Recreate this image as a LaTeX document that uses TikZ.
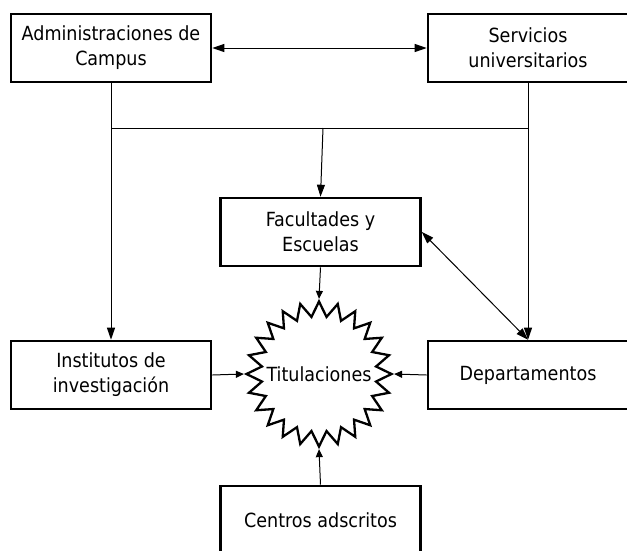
\documentclass[tikz,border=0pt]{standalone}
\usepackage{fontspec}
\setmainfont{DejaVu Sans Condensed}
\usepackage{tikz}
\usetikzlibrary{arrows.meta,shapes.geometric}
\tikzset{>={Triangle[width=8pt,length=12pt]}}
\tikzset{
  unitbox/.style={draw, line width=2.6pt, fill=white, minimum width=200pt, minimum height=68pt, align=center, inner sep=0pt},
  titstar/.style={draw, line width=2.3pt, star, star points=24, star point ratio=1.26, minimum size=145pt, inner sep=0pt},
  small/.style={-{Triangle[width=7pt,length=8pt]}},
}

\begin{document}
\begin{tikzpicture}[x=1pt, y=-1pt, line width=1pt]

  \fontsize{19.5pt}{25pt}\selectfont

  \useasboundingbox (0,0) rectangle (627,550);

  \node[unitbox] (admin) at (111, 48) {Administraciones de\\Campus};
  \node[unitbox] (serv) at (528, 48) {Servicios\\universitarios};
  \node[unitbox] (fac) at (320.5, 232) {Facultades y\\Escuelas};
  \node[unitbox] (inst) at (111, 375) {Institutos de\\investigación};
  \node[unitbox] (dept) at (528, 375) {Departamentos};
  \node[unitbox] (cen) at (320.5, 520) {Centros adscritos};
  \node[titstar] (tit) at (319, 374) {};
  \node at (tit) {Titulaciones};

  \coordinate (busL) at (111, 128);
  \coordinate (busM) at (323, 128);
  \coordinate (busR) at (528, 128);

  \draw[<->] (admin.east) -- (serv.west); % admin<->serv
  \draw (busL) -- (busR) -- (serv.south); % bus
  \draw[->] (admin.south) -- (inst.north); % admin->inst
  \draw[->] (busR) -- (dept.north); % serv->dept
  \draw[->] (busM) -- (fac.north); % bus->fac
  \draw[<->] (fac.east) -- (dept.north); % fac<->dept

  \draw[small] (fac.south) -- (tit.north); % fac->tit
  \draw[small] (inst.east) -- (tit.west); % inst->tit
  \draw[small] (dept.west) -- (tit.east); % dept->tit
  \draw[small] (cen.north) -- (tit.south); % cen->tit

\end{tikzpicture}
\end{document}
